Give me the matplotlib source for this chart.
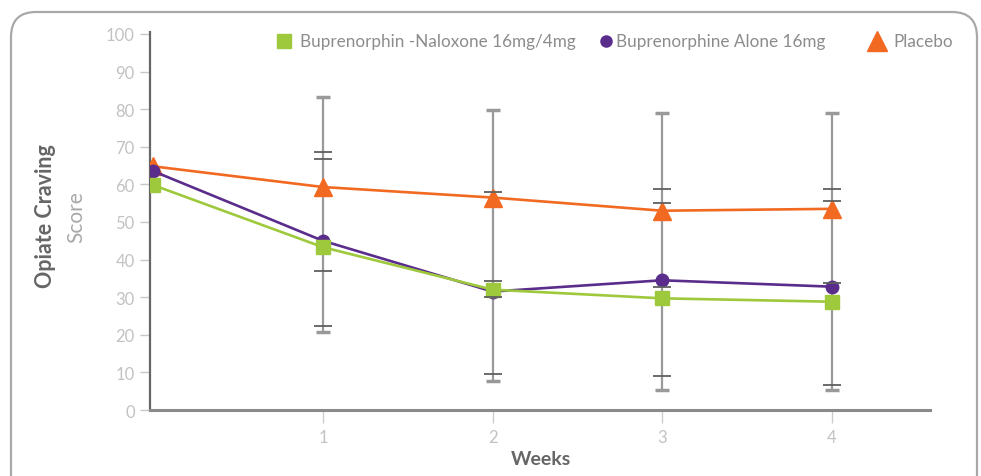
import matplotlib
matplotlib.use("Agg")
import matplotlib.pyplot as plt
from matplotlib.lines import Line2D
from matplotlib.patches import FancyBboxPatch

plt.rcParams['font.family'] = ['Lato', 'DejaVu Sans']

weeks = [0, 1, 2, 3, 4]
week_ticks = [1, 2, 3, 4]
week_labels = ["1", "2", "3", "4"]
y_ticks = [0, 10, 20, 30, 40, 50, 60, 70, 80, 90, 100]

series_names = ["Buprenorphin -Naloxone 16mg/4mg", "Buprenorphine Alone 16mg", "Placebo"]
bup_nal = [59.8, 43.3, 32.0, 29.7, 28.8]
bup_alone = [63.5, 45.0, 31.5, 34.5, 32.8]
placebo = [64.8, 59.3, 56.5, 53.0, 53.5]

# error bar ranges at weeks 1-4
eb_weeks = [1, 2, 3, 4]
gray_upper = [83.2, 79.9, 79.1, 79.1]
gray_lower = [20.7, 7.6, 5.3, 5.3]
darkA_upper = [68.7, 58.1, 58.9, 58.9]
darkA_lower = [22.3, 9.6, 9.0, 6.7]
darkB_upper = [66.8, 34.4, 55.1, 55.6]
darkB_lower = [37.0, 30.0, 32.8, 33.8]

c_green = "#9ec93c"
c_purple = "#5a2d8c"
c_orange = "#f26a22"

fig = plt.figure(figsize=(9.81, 4.77), dpi=100)
ax = fig.add_axes([150/981, 1-411/477, (930-150)/981, (411-35)/477])

# border
border = FancyBboxPatch((0.11, -0.5), 9.66, 4.77 - 0.12 + 0.5 - 0.01,
                        boxstyle="round,pad=0,rounding_size=0.25",
                        transform=fig.dpi_scale_trans, fill=False,
                        edgecolor="#a9a9a9", linewidth=1.6, clip_on=False)
fig.add_artist(border)

def draw_eb(upper, lower, color, lw, capsize, capthick, z):
    mid = [(u + l) / 2 for u, l in zip(upper, lower)]
    err = [[m - l for m, l in zip(mid, lower)], [u - m for u, m in zip(upper, mid)]]
    ax.errorbar(eb_weeks, mid, yerr=err, fmt="none", ecolor=color,
                elinewidth=lw, capsize=capsize, capthick=capthick, zorder=z)

draw_eb(darkA_upper, darkA_lower, "#5f5f5f", 0.0001, 6.5, 1.3, 5)
draw_eb(darkB_upper, darkB_lower, "#5f5f5f", 0.0001, 6.5, 1.3, 5)
draw_eb(gray_upper, gray_lower, "#999999", 1.6, 5, 2.5, 1)

ax.plot(weeks, placebo, color=c_orange, lw=1.9, marker="^", ms=13, zorder=3)
ax.plot(weeks, bup_alone, color=c_purple, lw=1.9, marker="o", ms=9, zorder=3)
ax.plot(weeks, bup_nal, color=c_green, lw=1.9, marker="s", ms=10, zorder=4)

ax.set_xlim(-0.02, 4.58)
ax.set_ylim(0, 100)
ax.set_yticks(y_ticks)
ax.set_yticklabels([str(v) for v in y_ticks])
ax.set_xticks(week_ticks)
ax.set_xticklabels(week_labels)

for s in ["top", "right"]:
    ax.spines[s].set_visible(False)
ax.spines["left"].set_color("#666666")
ax.spines["left"].set_linewidth(1.6)
ax.spines["bottom"].set_color("#8a8a8a")
ax.spines["bottom"].set_linewidth(2.2)
ax.spines["left"].set_bounds(0, 100.5)

ax.tick_params(axis="y", colors="#c8c8c8", labelcolor="#c2c2c2", length=7,
               width=1, pad=4, labelsize=12)
ax.tick_params(axis="x", colors="#cccccc", labelcolor="#c2c2c2", length=9,
               width=1, pad=5, labelsize=12)

fig.text(45/981, 1-216/477, "Opiate Craving", rotation=90, ha="center",
         va="center", fontsize=15.5, fontweight="bold", color="#666666")
fig.text(76/981, 1-217/477, "Score", rotation=90, ha="center", va="center",
         fontsize=15, color="#a8a8a8")
fig.text(541/981, 1-460/477, "Weeks", ha="center", va="center", fontsize=14,
         fontweight="bold", color="#666666")

# legend
leg_y = 1 - 42/477
legend_items = [
    (284, 300, "s", c_green, 10, series_names[0]),
    (606, 616, "o", c_purple, 8, series_names[1]),
    (877, 893, "^", c_orange, 14, series_names[2]),
]
for mx, tx, mk, col, ms, name in legend_items:
    fig.add_artist(Line2D([mx/981], [leg_y], marker=mk, color=col, ms=ms,
                          linestyle="none", transform=fig.transFigure))
    fig.text(tx/981, leg_y, name, ha="left", va="center", fontsize=12.3,
             color="#8c8c8c")

fig.savefig("out.png", dpi=100)
